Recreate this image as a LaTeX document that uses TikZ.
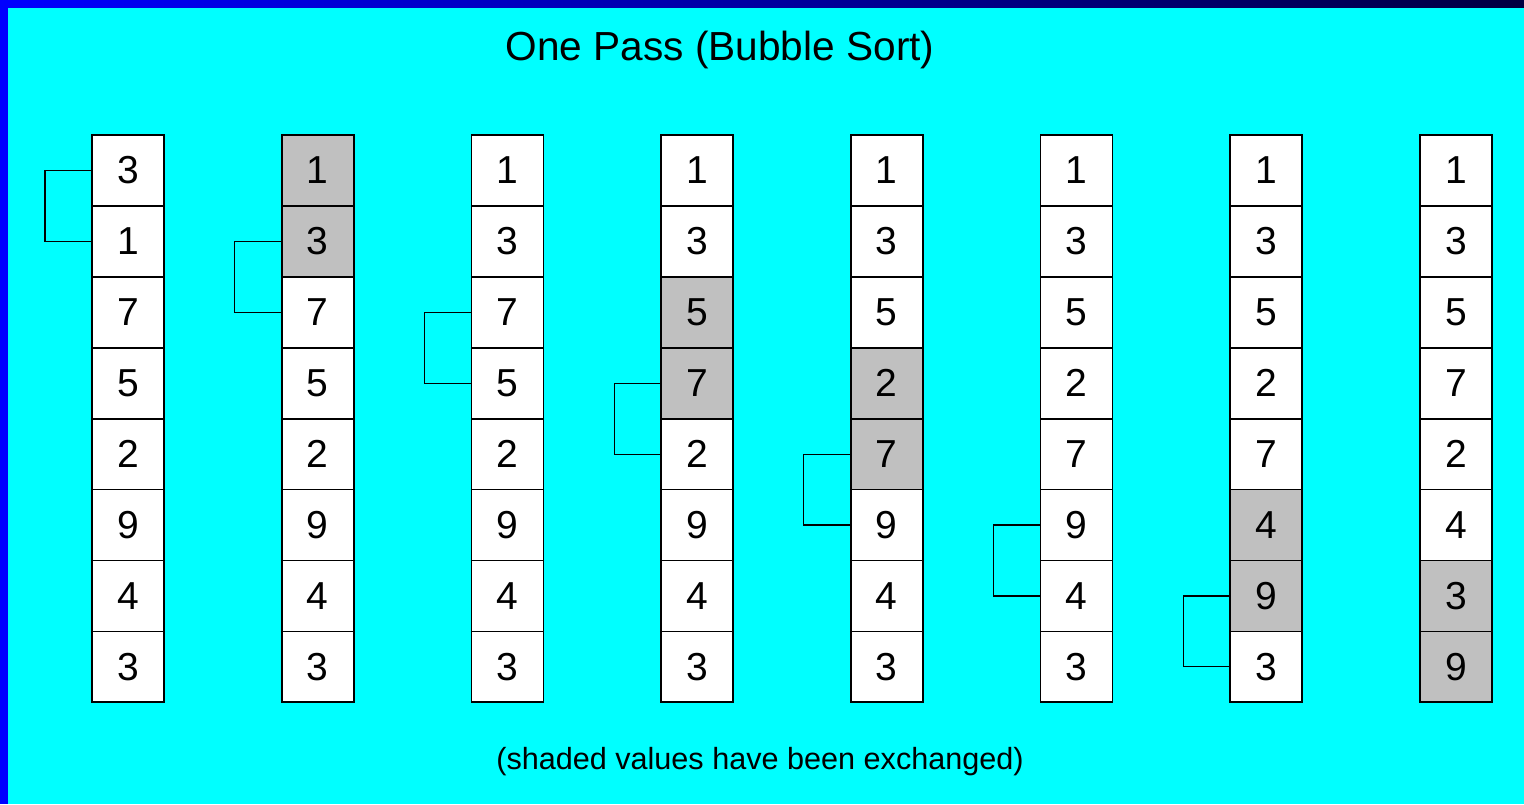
\documentclass[tikz,border=0pt]{standalone}
\usepackage{fontspec}
\setsansfont{Liberation Sans}
\usepackage{xcolor}
\usepackage{tikz}
\usetikzlibrary{positioning, calc}

\definecolor{pagebg}{RGB}{0,255,255}
\definecolor{rimblue}{RGB}{0,0,255}
\definecolor{rimnavy}{RGB}{0,0,64}
\definecolor{shade}{RGB}{192,192,192}

\begin{document}
\begin{tikzpicture}[
  x=0.5pt, y=-0.5pt,
  font=\sffamily,
  cell/.style={draw, line width=0.85pt, minimum width=36pt, minimum height=35.45pt,
    inner sep=0pt, outer sep=0pt, font=\sffamily\fontsize{19.5}{20}\selectfont},
  link/.style={draw, line width=0.6pt},
]
  % page
  \fill[pagebg] (0,0) rectangle (1524,804);
  \fill[rimblue] (0,0) rectangle (8,804);
  \shade[left color=rimblue, right color=rimnavy] (0,0) rectangle (1524,7);
  \useasboundingbox (0,0) rectangle (1524,804);

  \node (title) at (720,50) {\fontsize{20.3}{24}\selectfont One Pass (Bubble Sort)};

  % columns: values / first and second shaded row
  \foreach \vals/\sa/\sb [count=\c] in {
      {3,1,7,5,2,9,4,3}/0/0,
      {1,3,7,5,2,9,4,3}/1/2,
      {1,3,7,5,2,9,4,3}/0/0,
      {1,3,5,7,2,9,4,3}/3/4,
      {1,3,5,2,7,9,4,3}/4/5,
      {1,3,5,2,7,9,4,3}/0/0,
      {1,3,5,2,7,4,9,3}/6/7,
      {1,3,5,7,2,4,3,9}/7/8} {
    \foreach \v [count=\r] in \vals {
      \pgfmathtruncatemacro\isg{(\r==\sa)||(\r==\sb)}
      \ifnum\isg=1 \def\fc{shade}\else\def\fc{white}\fi
      \node[cell, fill=\fc] (c\c-\r) at ({128+(\c-1)*189.7},{170.5+(\r-1)*70.9}) {\v};
    }
  }

  % compared pairs
  \foreach \c in {1,...,7} {
    \pgfmathtruncatemacro\n{\c+1}
    \draw[link] (c\c-\c.west) -- ++(-47,0) |- (c\c-\n.west);
  }

  \node (note) at (760,762) {\fontsize{15.3}{18}\selectfont (shaded values have been exchanged)};
\end{tikzpicture}
\end{document}
